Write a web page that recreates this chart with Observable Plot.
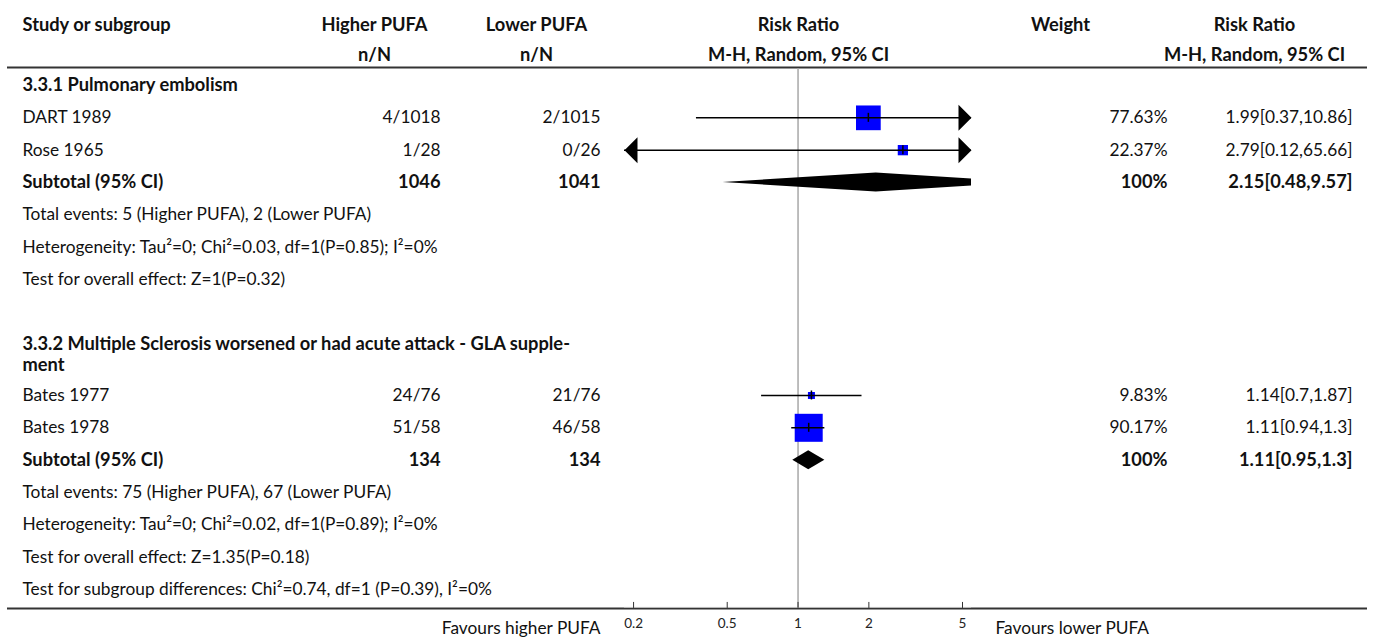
<!DOCTYPE html>
<html><head><meta charset="utf-8">
<script src="https://cdn.jsdelivr.net/npm/d3@7"></script>
<script src="https://cdn.jsdelivr.net/npm/@observablehq/plot@0.6"></script>
<style>body{margin:0;background:#fff;} #chart svg{display:block;}</style>
</head><body><div id="chart"></div>
<script>
// ---------- data ----------
const subgroupTitles = ["3.3.1 Pulmonary embolism", "3.3.2 Multiple Sclerosis worsened or had acute attack - GLA supple-\nment"];
const studyNames = ["DART 1989", "Rose 1965", "Bates 1977", "Bates 1978"];
const studyGroup = [0, 0, 1, 1];
const eventsHigher = [4, 1, 24, 51];
const totalHigher = [1018, 28, 76, 58];
const eventsLower = [2, 0, 21, 46];
const totalLower = [1015, 26, 76, 58];
const studyWeight = [77.63, 22.37, 9.83, 90.17];
const studyRR = [1.99, 2.79, 1.14, 1.11];
const studyLo = [0.37, 0.12, 0.7, 0.94];
const studyHi = [10.86, 65.66, 1.87, 1.3];
const subtotalHigher = [1046, 134];
const subtotalLower = [1041, 134];
const subtotalWeight = [100, 100];
const subtotalRR = [2.15, 1.11];
const subtotalLo = [0.48, 0.95];
const subtotalHi = [9.57, 1.3];
const totalEventsText = ["Total events: 5 (Higher PUFA), 2 (Lower PUFA)", "Total events: 75 (Higher PUFA), 67 (Lower PUFA)"];
const heterogeneityText = ["Heterogeneity: Tau²=0; Chi²=0.03, df=1(P=0.85); I²=0%", "Heterogeneity: Tau²=0; Chi²=0.02, df=1(P=0.89); I²=0%"];
const overallEffectText = ["Test for overall effect: Z=1(P=0.32)", "Test for overall effect: Z=1.35(P=0.18)"];
const subgroupDiffText = "Test for subgroup differences: Chi²=0.74, df=1 (P=0.39), I²=0%";
const axisTicks = [0.2, 0.5, 1, 2, 5];
const favoursLeft = "Favours higher PUFA";
const favoursRight = "Favours lower PUFA";
const headerTop = ["Study or subgroup", "Higher PUFA", "Lower PUFA", "Risk Ratio", "Weight", "Risk Ratio"];
const headerBottom = ["", "n/N", "n/N", "M-H, Random, 95% CI", "", "M-H, Random, 95% CI"];

// ---------- layout ----------
const W = 1375, H = 637;
const FL = 624, FR = 971;           // forest plot frame
const xMin = 0.183, xMax = 5.46;    // visible range of the log axis
const FONT = "Lato, sans-serif";
const FS = 17.3, FSB = 18.3;
const colStudy = 22, colHigher = 440, colLower = 600, colWeight = 1167, colRR = 1352;
const hdrCenters = [null, 374, 536, 798, 1060, 1254];
const P = 32.33;

const cells = [];   // text cells {y, text, x, anchor, bold}
const studies = [];
const subtotals = [];
let y = 85;
headerTop.forEach((t, i) => {
  if (i === 0) cells.push({y: 25, text: t, x: colStudy, anchor: "start", bold: true});
  else cells.push({y: 25, text: t, x: hdrCenters[i], anchor: "middle", bold: true});
  if (headerBottom[i]) cells.push({y: 55, text: headerBottom[i], x: hdrCenters[i], anchor: "middle", bold: true});
});
const fmt = v => String(v);
for (let g = 0; g < subgroupTitles.length; g++) {
  const lines = subgroupTitles[g].split("\n");
  lines.forEach((t, i) => cells.push({y: y + i * 21, text: t, x: colStudy, anchor: "start", bold: true}));
  y += P + (lines.length - 1) * 19;
  studyNames.forEach((name, i) => {
    if (studyGroup[i] !== g) return;
    studies.push({y, rr: studyRR[i], lo: studyLo[i], hi: studyHi[i], w: studyWeight[i]});
    cells.push({y, text: name, x: colStudy, anchor: "start", bold: false});
    cells.push({y, text: `${eventsHigher[i]}/${totalHigher[i]}`, x: colHigher, anchor: "end", bold: false});
    cells.push({y, text: `${eventsLower[i]}/${totalLower[i]}`, x: colLower, anchor: "end", bold: false});
    cells.push({y, text: `${studyWeight[i]}%`, x: colWeight, anchor: "end", bold: false});
    cells.push({y, text: `${fmt(studyRR[i])}[${fmt(studyLo[i])},${fmt(studyHi[i])}]`, x: colRR, anchor: "end", bold: false});
    y += P;
  });
  subtotals.push({y, rr: subtotalRR[g], lo: subtotalLo[g], hi: subtotalHi[g], g});
  cells.push({y, text: "Subtotal (95% CI)", x: colStudy, anchor: "start", bold: true});
  cells.push({y, text: String(subtotalHigher[g]), x: colHigher, anchor: "end", bold: true});
  cells.push({y, text: String(subtotalLower[g]), x: colLower, anchor: "end", bold: true});
  cells.push({y, text: `${subtotalWeight[g]}%`, x: colWeight, anchor: "end", bold: true});
  cells.push({y, text: `${fmt(subtotalRR[g])}[${fmt(subtotalLo[g])},${fmt(subtotalHi[g])}]`, x: colRR, anchor: "end", bold: true});
  y += P;
  [totalEventsText[g], heterogeneityText[g], overallEffectText[g]].forEach(t => {
    cells.push({y, text: t, x: colStudy, anchor: "start", bold: false});
    y += P;
  });
  if (g < subgroupTitles.length - 1) y += P;
}
cells.push({y, text: subgroupDiffText, x: colStudy, anchor: "start", bold: false});
const bottomY = y + 19;
const headerLineY = 67;

// group text cells into marks
const groups = d3.groups(cells, d => `${d.x}|${d.anchor}|${d.bold}`);
const textMarks = groups.map(([key, arr]) => Plot.text(arr, {
  y: "y", text: "text", frameAnchor: "left", dx: arr[0].x - FL,
  textAnchor: arr[0].anchor, fontWeight: arr[0].bold ? "bold" : "normal",
  fontSize: arr[0].bold ? FSB : FS, fill: "#111"
}));

// diamond polygons
const diamondPts = subtotals.flatMap(s => [
  {g: s.g, y: s.y - 9.5, x1: s.rr, x2: s.rr},
  {g: s.g, y: s.y, x1: s.lo, x2: s.hi},
  {g: s.g, y: s.y + 9.5, x1: s.rr, x2: s.rr}
]);

const rightArrow = {draw(ctx) { ctx.moveTo(0, 0); ctx.lineTo(-13, -13); ctx.lineTo(-13, 13); ctx.closePath(); }};
const leftArrow = {draw(ctx) { ctx.moveTo(0, 0); ctx.lineTo(13, -13); ctx.lineTo(13, 13); ctx.closePath(); }};

const chart = Plot.plot({
  width: W, height: H,
  marginLeft: FL, marginRight: W - FR, marginTop: 0, marginBottom: 0,
  style: {fontFamily: FONT, fontSize: FS + "px", color: "#111", background: "#fff"},
  x: {type: "log", domain: [xMin, xMax], axis: null},
  y: {type: "linear", domain: [0, H], range: [0, H], axis: null},
  r: {type: "linear", domain: [0, 100], range: [2.5, 17.25]},
  marks: [
    Plot.ruleY([headerLineY], {y: d => d, insetLeft: -(FL - 7), insetRight: -(1367 - FR), stroke: "#333", strokeWidth: 2}),
    Plot.ruleX([1], {x: d => d, y1: () => headerLineY + 1, y2: () => bottomY, stroke: "#a8a8a8", strokeWidth: 1.5}),
    Plot.dot(studies, {x: "rr", y: "y", r: "w", symbol: "square", fill: "#0000ff", stroke: null}),
    Plot.ruleY(studies, {y: "y", x1: "lo", x2: "hi", stroke: "#000", strokeWidth: 1.5, clip: true}),
    Plot.ruleX(studies, {x: "rr", y1: d => d.y - 4.5, y2: d => d.y + 4.5, stroke: "#000", strokeWidth: 1.5}),
    Plot.dot(studies.filter(d => d.hi > xMax), {x: () => xMax, y: "y", symbol: rightArrow, r: 5, fill: "#000", stroke: null}),
    Plot.dot(studies.filter(d => d.lo < xMin), {x: () => xMin, y: "y", symbol: leftArrow, r: 5, fill: "#000", stroke: null}),
    Plot.area(diamondPts, {x1: "x1", x2: "x2", y1: "y", z: "g", fill: "#000", curve: "linear", clip: true}),
    Plot.ruleY([bottomY], {y: d => d, insetLeft: -(FL - 7), insetRight: -(1367 - FR), stroke: "#333", strokeWidth: 2}),
    Plot.ruleY([bottomY - 1], {y: d => d, stroke: "#bbb", strokeWidth: 1}),
    Plot.ruleX(axisTicks, {x: d => d, y1: () => bottomY - 6, y2: () => bottomY, stroke: "#333", strokeWidth: 1}),
    Plot.text(axisTicks, {x: d => d, y: () => bottomY + 15, text: d => String(d), fontSize: 13.5, fill: "#222"}),
    Plot.text([favoursLeft], {y: () => bottomY + 20, text: d => d, frameAnchor: "left", dx: 600 - FL, textAnchor: "end", fontSize: FS, fill: "#111"}),
    Plot.text([favoursRight], {y: () => bottomY + 20, text: d => d, frameAnchor: "right", dx: 995 - FR, textAnchor: "start", fontSize: FS, fill: "#111"}),
    ...textMarks
  ]
});
document.getElementById("chart").appendChild(chart);
</script>
</body></html>
